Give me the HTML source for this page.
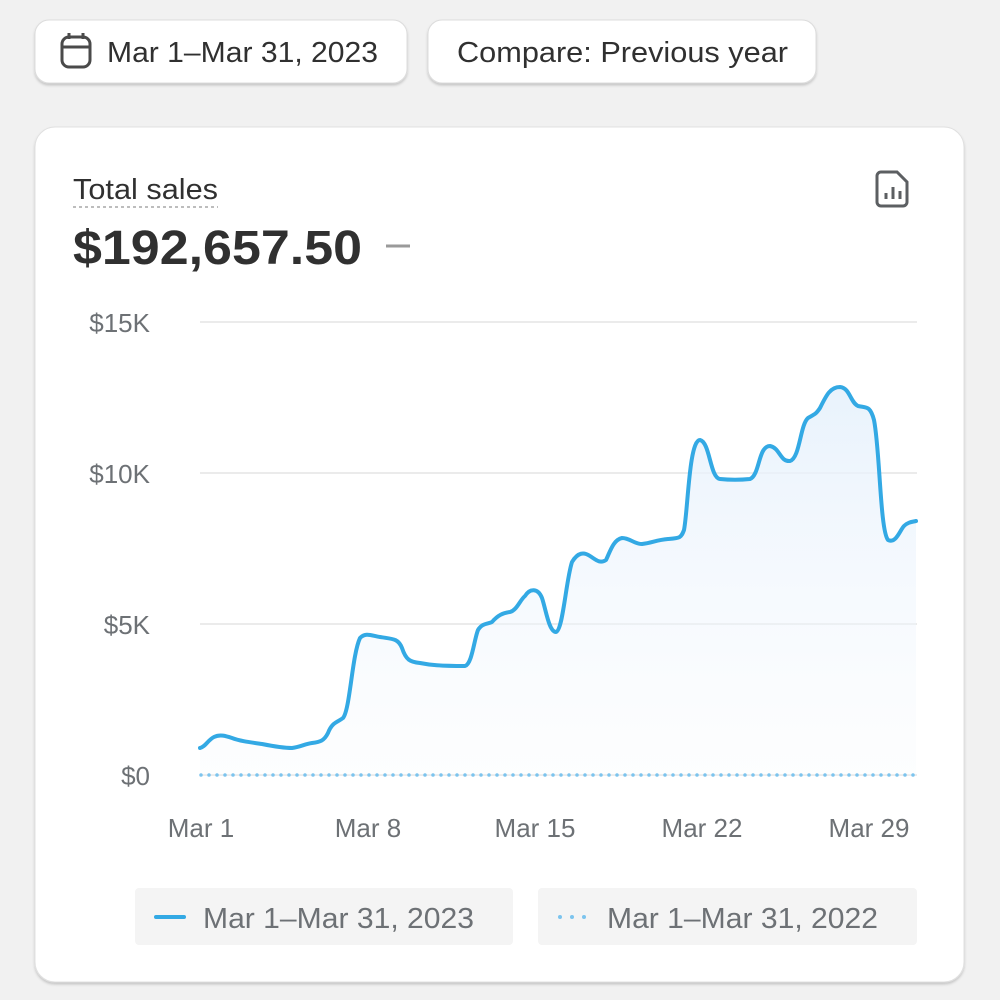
<!DOCTYPE html>
<html><head><meta charset="utf-8"><style>
html,body{margin:0;padding:0;background:#f1f1f1;}
svg{display:block;font-family:"Liberation Sans",Arial,sans-serif;}
</style></head><body>
<svg width="1000" height="1000" viewBox="0 0 1000 1000" xmlns="http://www.w3.org/2000/svg">
<defs>
<linearGradient id="g" x1="0" y1="0" x2="0" y2="1">
<stop offset="0" stop-color="#e6f1fc" stop-opacity="0.9"/>
<stop offset="1" stop-color="#f4f8fd" stop-opacity="0.2"/>
</linearGradient>
<filter id="sh" x="-5%" y="-5%" width="110%" height="115%"><feDropShadow dx="0" dy="2" stdDeviation="1.2" flood-color="#000" flood-opacity="0.18"/></filter>
</defs>
<rect width="1000" height="1000" fill="#f1f1f1"/>
<rect x="35" y="20" width="372" height="63" rx="14" fill="#fff" stroke="#dcdcdc" filter="url(#sh)"/>
<rect x="62" y="37" width="28" height="30" rx="7" fill="none" stroke="#4a4a4a" stroke-width="3"/>
<line x1="62" y1="47" x2="90" y2="47" stroke="#4a4a4a" stroke-width="3"/>
<line x1="69" y1="33" x2="69" y2="39" stroke="#4a4a4a" stroke-width="3"/>
<line x1="83" y1="33" x2="83" y2="39" stroke="#4a4a4a" stroke-width="3"/>
<text x="107" y="62" font-size="29" fill="#303030" textLength="271" lengthAdjust="spacingAndGlyphs">Mar 1–Mar 31, 2023</text>
<rect x="428" y="20" width="388" height="63" rx="14" fill="#fff" stroke="#dcdcdc" filter="url(#sh)"/>
<text x="457" y="62" font-size="29" fill="#303030" textLength="331" lengthAdjust="spacingAndGlyphs">Compare: Previous year</text>
<rect x="35" y="127" width="929" height="855" rx="20" fill="#fff" stroke="#e0e0e0" filter="url(#sh)"/>
<text x="73" y="199" font-size="29" fill="#303030" textLength="145" lengthAdjust="spacingAndGlyphs">Total sales</text>
<line x1="73" y1="207" x2="218" y2="207" stroke="#bdbdbd" stroke-width="2" stroke-dasharray="3,3"/>
<text x="73" y="264" font-size="48" font-weight="bold" fill="#303030" textLength="289" lengthAdjust="spacingAndGlyphs">$192,657.50</text>
<line x1="386" y1="246" x2="410" y2="246" stroke="#9a9a9a" stroke-width="3"/>
<path d="M881 172 h16 l10 10 v20 a4 4 0 0 1 -4 4 h-22 a4 4 0 0 1 -4 -4 v-26 a4 4 0 0 1 4 -4z" fill="none" stroke="#5c5f62" stroke-width="3"/>
<line x1="886" y1="199" x2="886" y2="193" stroke="#5c5f62" stroke-width="3"/>
<line x1="893" y1="199" x2="893" y2="187" stroke="#5c5f62" stroke-width="3"/>
<line x1="900" y1="199" x2="900" y2="191" stroke="#5c5f62" stroke-width="3"/>
<g stroke="#ebebeb" stroke-width="2">
<line x1="200" y1="322" x2="917" y2="322"/>
<line x1="200" y1="473" x2="917" y2="473"/>
<line x1="200" y1="624" x2="917" y2="624"/>
<line x1="200" y1="775" x2="917" y2="775"/>
</g>
<g font-size="26" fill="#6d7175" text-anchor="end">
<text x="150" y="332">$15K</text>
<text x="150" y="483">$10K</text>
<text x="150" y="634">$5K</text>
<text x="150" y="785">$0</text>
</g>
<g font-size="26" fill="#6d7175" text-anchor="middle">
<text x="201" y="837">Mar 1</text>
<text x="368" y="837">Mar 8</text>
<text x="535" y="837">Mar 15</text>
<text x="702" y="837">Mar 22</text>
<text x="869" y="837">Mar 29</text>
</g>
<path d="M200,748 C205,747 208,740 214,737 C220,734 226,736 232,738 C240,741 248,742 262,744 C272,746 282,748 292,748 C300,747 305,744 312,743 C320,742 324,741 328,733 C332,722 338,722 343,718 C350,710 352,655 360,638 C366,632 372,636 380,637 C392,639 398,638 402,648 C406,660 410,662 420,663 C430,665 440,666 465,666 C472,664 474,640 478,630 C482,623 488,624 492,622 C498,615 503,613 510,612 C517,610 520,600 525,596 C530,588 538,588 542,598 C546,610 549,632 556,632 C563,630 566,580 572,562 C578,552 584,552 590,556 C596,560 600,564 606,560 C610,552 613,540 622,538 C630,538 634,544 642,544 C652,543 656,540 668,539 C680,538 681,538 684,530 C688,510 689,440 700,440 C710,442 710,478 720,479 C730,480 740,480 750,479 C760,475 758,446 770,446 C780,448 780,462 790,461 C800,458 800,425 808,418 C815,414 816,414 820,408 C826,396 830,387 840,387 C850,388 850,402 858,406 C866,408 870,405 874,420 C880,450 880,530 888,540 C896,544 900,530 904,526 C908,522 912,522 916,521 L916,775 L200,775Z" fill="url(#g)"/>
<path d="M200,748 C205,747 208,740 214,737 C220,734 226,736 232,738 C240,741 248,742 262,744 C272,746 282,748 292,748 C300,747 305,744 312,743 C320,742 324,741 328,733 C332,722 338,722 343,718 C350,710 352,655 360,638 C366,632 372,636 380,637 C392,639 398,638 402,648 C406,660 410,662 420,663 C430,665 440,666 465,666 C472,664 474,640 478,630 C482,623 488,624 492,622 C498,615 503,613 510,612 C517,610 520,600 525,596 C530,588 538,588 542,598 C546,610 549,632 556,632 C563,630 566,580 572,562 C578,552 584,552 590,556 C596,560 600,564 606,560 C610,552 613,540 622,538 C630,538 634,544 642,544 C652,543 656,540 668,539 C680,538 681,538 684,530 C688,510 689,440 700,440 C710,442 710,478 720,479 C730,480 740,480 750,479 C760,475 758,446 770,446 C780,448 780,462 790,461 C800,458 800,425 808,418 C815,414 816,414 820,408 C826,396 830,387 840,387 C850,388 850,402 858,406 C866,408 870,405 874,420 C880,450 880,530 888,540 C896,544 900,530 904,526 C908,522 912,522 916,521" fill="none" stroke="#33a9e4" stroke-width="4" stroke-linejoin="round" stroke-linecap="round"/>
<line x1="201" y1="775" x2="916" y2="775" stroke="#7cc4ee" stroke-width="3.5" stroke-linecap="round" stroke-dasharray="0,8"/>
<rect x="135" y="888" width="378" height="57" rx="4" fill="#f4f4f4"/>
<line x1="156" y1="917" x2="184" y2="917" stroke="#33a9e4" stroke-width="4" stroke-linecap="round"/>
<text x="203" y="928" font-size="29" fill="#6d7175" textLength="271" lengthAdjust="spacingAndGlyphs">Mar 1–Mar 31, 2023</text>
<rect x="538" y="888" width="379" height="57" rx="4" fill="#f4f4f4"/>
<g fill="#7cc4ee"><circle cx="560" cy="917" r="2"/><circle cx="572" cy="917" r="2"/><circle cx="584" cy="917" r="2"/></g>
<text x="607" y="928" font-size="29" fill="#6d7175" textLength="271" lengthAdjust="spacingAndGlyphs">Mar 1–Mar 31, 2022</text>
</svg>
</body></html>
